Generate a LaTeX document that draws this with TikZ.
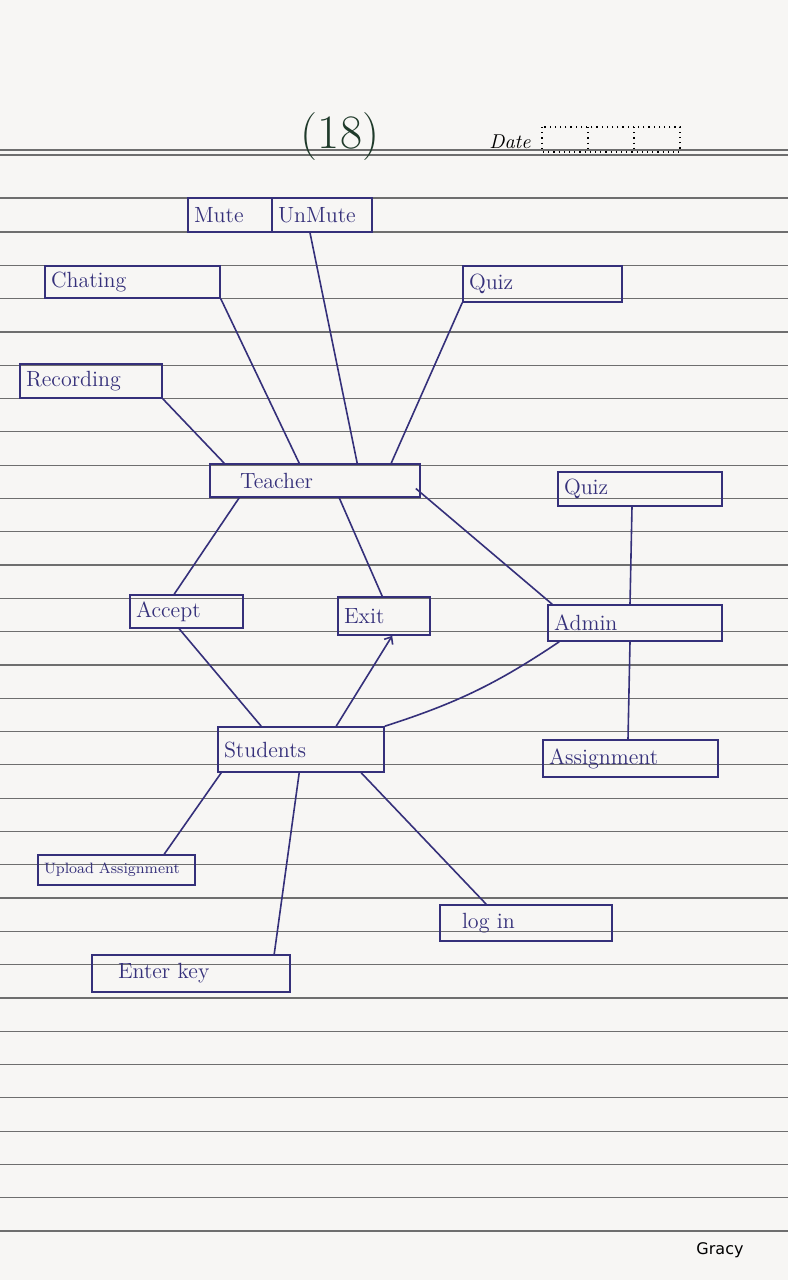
\documentclass[tikz,border=0pt]{standalone}
\usepackage{fontspec}
\newfontfamily\grsans{DejaVu Sans}
\usetikzlibrary{arrows.meta}
\definecolor{ink}{HTML}{35307A}
\definecolor{paper}{HTML}{F7F6F4}
\definecolor{rule}{HTML}{6E6E6E}
\definecolor{pgnum}{HTML}{1F3A2A}
\begin{document}
\begin{tikzpicture}[x=0.5pt,y=-0.5pt,
  box/.style args={#1/#2}{draw=ink, line width=0.8pt, text=ink, minimum height=#2,
     text width=#1, align=left, inner sep=3pt, font=\fontsize{11}{13}\selectfont},
  link/.style={draw=ink, line width=0.8pt},
  paperline/.style={draw=rule, line width=0.6pt}]
\useasboundingbox (0,0) rectangle (788,1280);
\fill[paper] (0,0) rectangle (788,1280);
% ruled paper
\draw[paperline] (0,150) -- (788,150);
\draw[paperline] (0,155) -- (788,155);
\draw[paperline] (0,198) -- (788,198);
\foreach \k in {0,...,30} {\draw[paperline] (0,{232+33.3*\k}) -- (788,{232+33.3*\k});}
% header
\node[text=pgnum, font=\fontsize{24}{26}\selectfont] (pg) at (340,137) {(18)};
\node[text=black, font=\itshape\fontsize{10}{12}\selectfont] (date) at (510,142) {Date};
\draw[black, dotted, line width=0.6pt] (542,127) rectangle (680,152);
\draw[black, dotted, line width=0.6pt] (588,127) -- (588,152);
\draw[black, dotted, line width=0.6pt] (634,127) -- (634,152);
\node[text=black, font=\grsans\fontsize{8}{10}\selectfont] (sig) at (720,1250) {Gracy};
% nodes
\node[box=36pt/17pt] (mute) at (230,215) {Mute};
\node[box=44pt/17pt] (unmute) at (322,215) {UnMute};
\node[box=81.5pt/16pt] (chat) at (132.5,282) {Chating};
\node[box=65pt/17pt] (rec) at (91,381) {Recording};
\node[box=73.5pt/18pt] (quiz1) at (542.5,284) {Quiz};
\node[box=99pt/16.5pt] (teacher) at (315,480.5) {\hspace*{12pt}Teacher};
\node[box=76pt/17pt] (quiz2) at (640,489) {Quiz};
\node[box=50.5pt/16.5pt] (accept) at (186.5,611.5) {Accept};
\node[box=40pt/19pt] (exit) at (384,616) {Exit};
\node[box=81pt/18pt] (admin) at (635,623) {Admin};
\node[box=77pt/22.5pt] (students) at (301,749.5) {Students};
\node[box=81.5pt/18.5pt] (assign) at (630.5,758.5) {Assignment};
\node[box=72.5pt/15pt, font=\fontsize{7.5}{9}\selectfont] (upload) at (116.5,870) {Upload Assignment};
\node[box=80pt/18pt] (login) at (526,923) {\hspace*{8pt}log in};
\node[box=93pt/18.5pt] (enter) at (191,973.5) {\hspace*{10pt}Enter key};
% connectors
\draw[link] (chat.south east) -- ([xshift=45pt]teacher.north west);
\draw[link] ([xshift=-6pt]unmute.south) -- ([xshift=74pt]teacher.north west);
\draw[link] (quiz1.south west) -- ([xshift=91pt]teacher.north west);
\draw[link] (rec.south east) -- ([xshift=7.5pt]teacher.north west);
\draw[link] ([xshift=15pt]teacher.south west) -- ([xshift=22.5pt]accept.north west);
\draw[link] ([xshift=65pt]teacher.south west) -- ([xshift=22.5pt]exit.north west);
\draw[link] ([xshift=-2.5pt,yshift=-4pt]teacher.east) -- ([xshift=2.5pt]admin.north west);
\draw[link] ([xshift=-4pt]quiz2.south) -- ([xshift=-2.5pt]admin.north);
\draw[link] ([xshift=-2.5pt]admin.south) -- ([xshift=-1.25pt]assign.north);
\draw[link] ([xshift=25pt]accept.south west) -- ([xshift=22pt]students.north west);
\draw[link, -{Straight Barb[length=3pt,width=5pt]}] ([xshift=59.5pt]students.north west) -- ([xshift=27.5pt]exit.south west);
\draw[link] ([xshift=6pt]admin.south west) to[bend left=8] (students.north east);
\draw[link] ([xshift=2pt]students.south west) -- ([xshift=63.5pt]upload.north west);
\draw[link] ([xshift=41pt]students.south west) -- ([xshift=91.5pt]enter.north west);
\draw[link] ([xshift=72pt]students.south west) -- ([xshift=23.5pt]login.north west);
\end{tikzpicture}
\end{document}
